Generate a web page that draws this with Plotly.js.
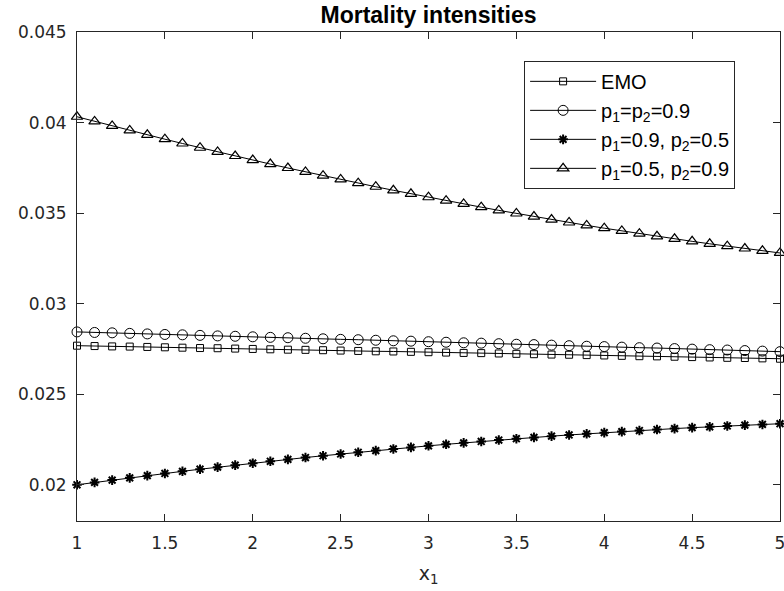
<!DOCTYPE html>
<html>
<head>
<meta charset="utf-8">
<script src="https://cdn.plot.ly/plotly-3.0.1.min.js"></script>
<style>html,body{margin:0;padding:0;background:#fff;}#chart{width:784px;height:591px;}</style>
</head>
<body>
<div id="chart"></div>
<script>
const x1 = [1.0,1.1,1.2,1.3,1.4,1.5,1.6,1.7,1.8,1.9,2.0,2.1,2.2,2.3,2.4,2.5,2.6,2.7,2.8,2.9,3.0,3.1,3.2,3.3,3.4,3.5,3.6,3.7,3.8,3.9,4.0,4.1,4.2,4.3,4.4,4.5,4.6,4.7,4.8,4.9,5.0];

const emo = [0.02768,0.02766,0.02764,0.02763,0.02761,0.02759,0.02757,0.02755,0.02754,0.02752,0.02750,0.02748,0.02746,0.02745,0.02743,0.02741,0.02739,0.02737,0.02736,0.02734,0.02732,0.02730,0.02728,0.02727,0.02725,0.02723,0.02721,0.02719,0.02718,0.02716,0.02714,0.02712,0.02710,0.02709,0.02707,0.02705,0.02703,0.02701,0.02700,0.02698,0.02696];

const p09p09 = [0.02844,0.02841,0.02839,0.02836,0.02833,0.02830,0.02828,0.02825,0.02822,0.02820,0.02817,0.02814,0.02812,0.02809,0.02806,0.02803,0.02801,0.02798,0.02795,0.02793,0.02790,0.02787,0.02784,0.02782,0.02779,0.02776,0.02774,0.02771,0.02768,0.02765,0.02763,0.02760,0.02757,0.02755,0.02752,0.02749,0.02746,0.02744,0.02741,0.02738,0.02735];

const p09p05 = [0.020000,0.020130,0.020257,0.020382,0.020505,0.020625,0.020743,0.020859,0.020972,0.021083,0.021192,0.021298,0.021402,0.021504,0.021603,0.021700,0.021795,0.021888,0.021978,0.022065,0.022151,0.022234,0.022315,0.022393,0.022469,0.022543,0.022615,0.022684,0.022751,0.022815,0.022877,0.022937,0.022995,0.023050,0.023103,0.023153,0.023202,0.023248,0.023291,0.023332,0.023371];

const p05p09 = [0.040320,0.040065,0.039814,0.039567,0.039322,0.039081,0.038844,0.038610,0.038379,0.038152,0.037928,0.037707,0.037490,0.037277,0.037066,0.036860,0.036656,0.036456,0.036260,0.036067,0.035877,0.035690,0.035508,0.035328,0.035152,0.034979,0.034810,0.034644,0.034482,0.034323,0.034167,0.034015,0.033866,0.033721,0.033579,0.033441,0.033305,0.033174,0.033045,0.032920,0.032799];

const seriesNames = ['EMO', 'p<sub>1</sub>=p<sub>2</sub>=0.9', 'p<sub>1</sub>=0.9, p<sub>2</sub>=0.5', 'p<sub>1</sub>=0.5, p<sub>2</sub>=0.9'];
const seriesValues = [emo, p09p09, p09p05, p05p09];
const seriesSymbols = ['square-open', 'circle-open', 'asterisk-open', 'triangle-up-open'];
const seriesSizes = [7, 10, 8, 10];
const seriesMarkerWidths = [1, 1, 2, 1.2];

const xTicks = [1, 1.5, 2, 2.5, 3, 3.5, 4, 4.5, 5];
const xTickText = ['1', '1.5', '2', '2.5', '3', '3.5', '4', '4.5', '5'];
const yTicks = [0.02, 0.025, 0.03, 0.035, 0.04, 0.045];
const yTickText = ['0.02', '0.025', '0.03', '0.035', '0.04', '0.045'];

const axisColor = '#262626';
const traces = seriesValues.map((vals, i) => ({
  x: x1,
  y: vals,
  name: seriesNames[i],
  type: 'scatter',
  mode: 'lines+markers',
  line: {color: '#000000', width: 1},
  marker: {symbol: seriesSymbols[i], size: seriesSizes[i], color: '#000000', line: {color: '#000000', width: seriesMarkerWidths[i]}},
  cliponaxis: false
}));

const layout = {
  width: 784,
  height: 591,
  margin: {l: 77, r: 4, t: 32, b: 70},
  paper_bgcolor: '#ffffff',
  plot_bgcolor: '#ffffff',
  font: {family: 'DejaVu Sans, Liberation Sans, Arial, sans-serif', size: 17, color: axisColor},
  title: {
    text: '<b>Mortality intensities</b>',
    font: {family: 'Liberation Sans, Arial, sans-serif', size: 23, color: '#000000'},
    x: 0.5, xref: 'paper', xanchor: 'center',
    y: 0.974, yref: 'container', yanchor: 'middle'
  },
  xaxis: {
    range: [1, 5],
    tickmode: 'array', tickvals: xTicks, ticktext: xTickText,
    ticks: 'inside', ticklen: 7, tickcolor: axisColor, tickwidth: 1,
    showline: true, linecolor: axisColor, linewidth: 1, mirror: 'ticks',
    showgrid: false, zeroline: false,
    ticklabelstandoff: 7,
    ticklabeloverflow: 'allow',
    title: {text: 'x<sub>1</sub>', font: {size: 19, color: axisColor}, standoff: 14}
  },
  yaxis: {
    range: [0.018, 0.045],
    tickmode: 'array', tickvals: yTicks, ticktext: yTickText,
    ticks: 'inside', ticklen: 7, tickcolor: axisColor, tickwidth: 1,
    showline: true, linecolor: axisColor, linewidth: 1, mirror: 'ticks',
    showgrid: false, zeroline: false,
    ticklabelstandoff: 6,
    ticklabeloverflow: 'allow'
  },
  legend: {
    x: 0.636, y: 0.941, xanchor: 'left', yanchor: 'top',
    bgcolor: '#ffffff', bordercolor: axisColor, borderwidth: 1,
    font: {family: 'Liberation Sans, Arial, sans-serif', size: 20, color: '#000000'},
    itemwidth: 66,
    tracegroupgap: 0
  },
  showlegend: true
};

Plotly.newPlot('chart', traces, layout, {displayModeBar: false, staticPlot: true});
</script>
</body>
</html>
